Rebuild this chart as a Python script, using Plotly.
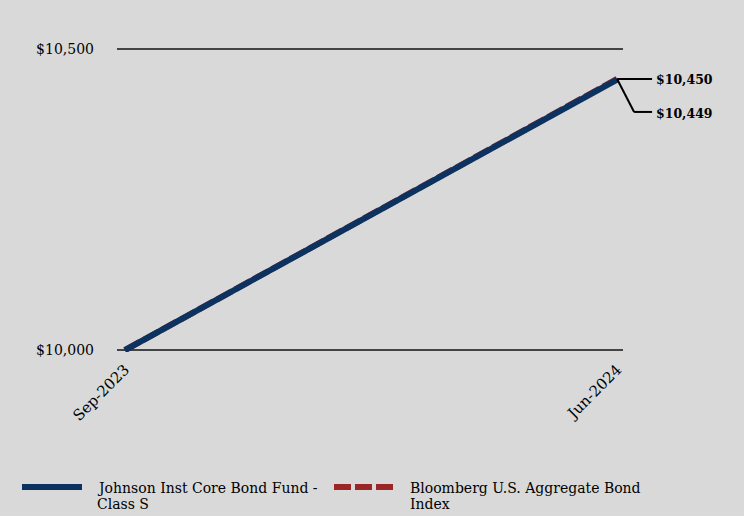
import plotly.graph_objects as go

categories = ["Sep-2023", "Jun-2024"]
fund_values = [10000, 10449]
index_values = [10000, 10450]
fund_name = "Johnson Inst Core Bond Fund -<br>Class S"
index_name = "Bloomberg U.S. Aggregate Bond<br>Index"
end_labels = ["$10,450", "$10,449"]
y_ticks = [10000, 10500]
y_tick_labels = ["$10,000", "$10,500"]

BG = "#d9d9d9"
NAVY = "#0c3260"
RED = "#9b2628"
SERIF = "DejaVu Serif"

W, H = 744, 516
ML, MR, MT, MB = 117, 121, 47, 164
x_pos = list(range(len(categories)))
x_range = [-0.016, 1.012]
y_range = [9997, 10503]
plot_w = W - ML - MR
plot_h = H - MT - MB


def px_x(p):
    return (p - ML) / plot_w


def px_y(p):
    return (H - MB - p) / plot_h


def data_to_paper_x(v):
    return (v - x_range[0]) / (x_range[1] - x_range[0])


def data_to_paper_y(v):
    return (v - y_range[0]) / (y_range[1] - y_range[0])


fig = go.Figure()
# index drawn first (underneath), fund on top
fig.add_trace(go.Scatter(
    x=x_pos, y=index_values, mode="lines", name=index_name,
    line=dict(color=RED, width=6, dash="17px,4px"), showlegend=False,
))
fig.add_trace(go.Scatter(
    x=x_pos, y=fund_values, mode="lines", name=fund_name,
    line=dict(color=NAVY, width=6), showlegend=False,
))

last = x_pos[-1]
end_val = max(fund_values[-1], index_values[-1])
ex = data_to_paper_x(last)
ey = data_to_paper_y(end_val)
dx1 = 17 / plot_w
dx2 = 35 / plot_w
dy = 33 / plot_h
# leader lines (paper coords so they are not clipped by the plot area)
leader = dict(color="black", width=2)
fig.add_shape(type="line", xref="paper", yref="paper",
              x0=ex, y0=ey, x1=ex + dx2, y1=ey, line=leader)
fig.add_shape(type="line", xref="paper", yref="paper",
              x0=ex, y0=ey, x1=ex + dx1, y1=ey - dy, line=leader)
fig.add_shape(type="line", xref="paper", yref="paper",
              x0=ex + dx1, y0=ey - dy, x1=ex + dx2, y1=ey - dy, line=leader)
for i, lab in enumerate(end_labels):
    fig.add_annotation(x=last, y=end_val, xref="x", yref="y", text=f"<b>{lab}</b>",
                       showarrow=False, xanchor="left", yanchor="middle",
                       xshift=37, yshift=-1 - 34 * i,
                       font=dict(family=SERIF, size=12.5, color="black"))

# legend (drawn manually to match the long legend swatches)
legend_items = [
    (fund_name, NAVY, "solid", 22, 95),
    (index_name, RED, "17px,4px", 334, 408),
]
for name, color, dash, sx, tx in legend_items:
    fig.add_shape(type="line", xref="paper", yref="paper",
                  x0=px_x(sx), x1=px_x(sx + 60), y0=px_y(487), y1=px_y(487),
                  line=dict(color=color, width=6, dash=dash))
    for j, line_text in enumerate(name.split("<br>")):
        fig.add_annotation(x=px_x(tx), y=px_y(488 + 16 * j), xref="paper", yref="paper",
                           text=line_text, showarrow=False, xanchor="left",
                           yanchor="middle", font=dict(family=SERIF, size=14, color="black"))

fig.update_layout(
    width=W, height=H,
    paper_bgcolor=BG, plot_bgcolor=BG,
    margin=dict(l=ML, r=MR, t=MT, b=MB, autoexpand=False),
    font=dict(family=SERIF, color="black", size=14),
    showlegend=False,
    xaxis=dict(range=x_range, tickvals=x_pos, ticktext=categories, showgrid=False,
               zeroline=False, showline=False, tickangle=-45, ticks="",
               tickfont=dict(size=15), ticklabelstandoff=5),
    yaxis=dict(range=y_range, tickvals=y_ticks, ticktext=y_tick_labels,
               showgrid=True, gridcolor="#444444", gridwidth=2, zeroline=False,
               showline=False, ticks="", tickfont=dict(size=14), ticklabelstandoff=22),
)

fig.write_html("out.html", config={"displayModeBar": False},
               post_script="document.body.style.margin='0';")
